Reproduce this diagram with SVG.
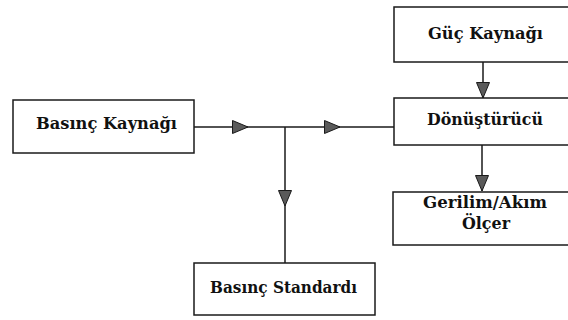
<svg xmlns="http://www.w3.org/2000/svg" width="568" height="320" viewBox="0 0 568 320">
  <style>
    .box { fill: #ffffff; stroke: #1a1a1a; stroke-width: 1.5; }
    .lbl { font-family: "DejaVu Serif", "Liberation Serif", serif; font-weight: bold; font-size: 17px; fill: #111111; text-anchor: middle; }
    .conn { fill: none; stroke: #1a1a1a; stroke-width: 1.5; }
  </style>
  <defs>
    <marker id="tri" markerUnits="userSpaceOnUse" markerWidth="17" markerHeight="15" refX="16" refY="7" orient="auto" viewBox="0 0 17 15">
      <path d="M0.5,0.5 L16,7 L0.5,13.5 z" fill="#5a5a5a" stroke="#1a1a1a" stroke-width="1"/>
    </marker>
  </defs>
  <rect width="568" height="320" fill="#ffffff"/>
  <g id="connectors">
    <path class="conn" d="M194,127 H248" marker-end="url(#tri)"/>
    <path class="conn" d="M248,127 H340" marker-end="url(#tri)"/>
    <path class="conn" d="M340,127 H394"/>
    <path class="conn" d="M285,127 V206" marker-end="url(#tri)"/>
    <path class="conn" d="M285,206 V263"/>
    <path class="conn" d="M483,62 V98" marker-end="url(#tri)"/>
    <path class="conn" d="M482,145 V191" marker-end="url(#tri)"/>
  </g>
  <g id="basinc-kaynagi">
    <rect class="box" x="13" y="100" width="181" height="53"/>
    <text class="lbl" x="106.5" y="129" textLength="141" lengthAdjust="spacingAndGlyphs">Basınç Kaynağı</text>
  </g>
  <g id="guc-kaynagi">
    <rect class="box" x="394" y="7" width="184" height="55"/>
    <text class="lbl" x="485.5" y="39" textLength="115" lengthAdjust="spacingAndGlyphs">Güç Kaynağı</text>
  </g>
  <g id="donusturucu">
    <rect class="box" x="394" y="98" width="184" height="47"/>
    <text class="lbl" x="485" y="125" textLength="116" lengthAdjust="spacingAndGlyphs">Dönüştürücü</text>
  </g>
  <g id="gerilim-akim-olcer">
    <rect class="box" x="393" y="192" width="185" height="53"/>
    <text class="lbl" x="485" y="208" textLength="124" lengthAdjust="spacingAndGlyphs">Gerilim/Akım</text>
    <text class="lbl" x="486" y="229" textLength="48" lengthAdjust="spacingAndGlyphs">Ölçer</text>
  </g>
  <g id="basinc-standardi">
    <rect class="box" x="194" y="263" width="181" height="52"/>
    <text class="lbl" x="283.5" y="293" textLength="147" lengthAdjust="spacingAndGlyphs">Basınç Standardı</text>
  </g>
</svg>
